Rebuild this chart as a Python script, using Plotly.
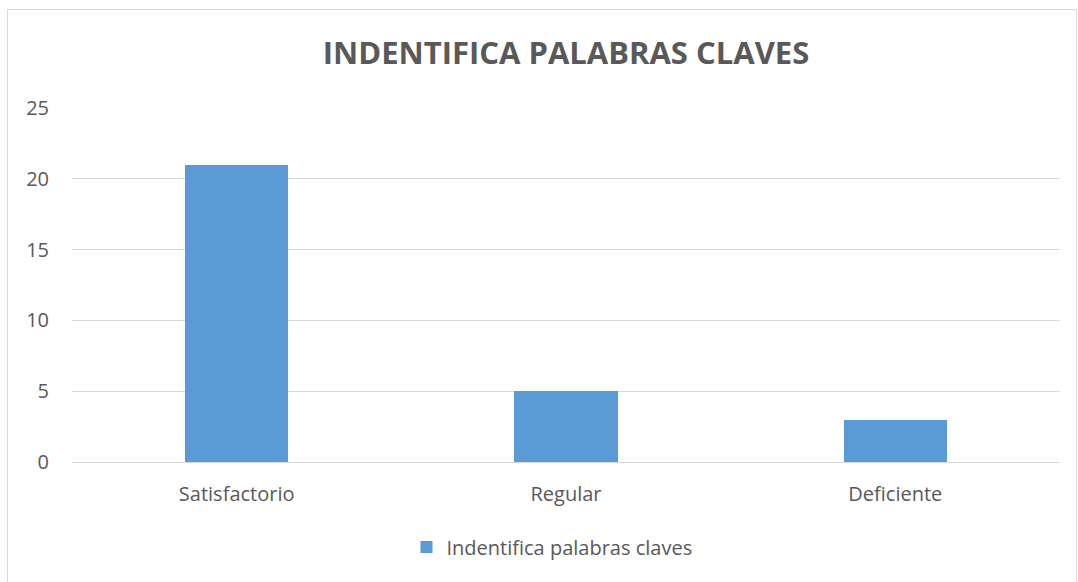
import plotly.graph_objects as go

categories = ["Satisfactorio", "Regular", "Deficiente"]
values = [21, 5, 3]
series_name = "Indentifica palabras claves"
title_text = "INDENTIFICA PALABRAS CLAVES"
y_ticks = [0, 5, 10, 15, 20, 25]

W, H = 1078, 582
L, R, T, B = 72, 18, 108, 120
pw, ph = W - L - R, H - T - B

fig = go.Figure()
fig.add_trace(go.Bar(
    x=categories, y=values, name=series_name,
    marker=dict(color="#5b9bd5", line=dict(width=0)),
    width=0.313,
))

def px_x(x):
    return (x - L) / pw

def px_y(y):
    return (H - B - y) / ph

fig.update_layout(
    width=W, height=H,
    margin=dict(l=L, r=R, t=T, b=B),
    paper_bgcolor="white", plot_bgcolor="white",
    font=dict(family="Open Sans, Liberation Sans, sans-serif", color="#595959", size=20),
    title=dict(text="<b>" + title_text + "</b>", x=0.5, xanchor="center",
               y=1 - 53 / H, yanchor="middle", xref="paper",
               font=dict(size=31, color="#595959")),
    showlegend=True,
    legend=dict(orientation="h", x=px_x(552), xanchor="center", y=px_y(547), yanchor="middle",
                font=dict(size=20, color="#595959")),
    bargap=0,
    xaxis=dict(showgrid=False, showline=True, linecolor="#d9d9d9", linewidth=1,
               ticks="", ticklabelstandoff=14, tickfont=dict(size=20)),
    yaxis=dict(range=[0, 25], tickvals=y_ticks, showgrid=True, gridcolor="#d9d9d9",
               gridwidth=1, zeroline=False, showline=False, ticks="",
               ticklabelstandoff=22, tickfont=dict(size=20)),
    shapes=[dict(type="rect", xref="paper", yref="paper",
                 x0=px_x(7.5), x1=px_x(1076.5), y0=px_y(590), y1=px_y(9.5),
                 line=dict(color="#d9d9d9", width=1), fillcolor="rgba(0,0,0,0)", layer="below")],
)

fig.write_html("out.html", config={"displayModeBar": False},
               post_script="document.body.style.margin='0';document.body.style.overflow='hidden';")
